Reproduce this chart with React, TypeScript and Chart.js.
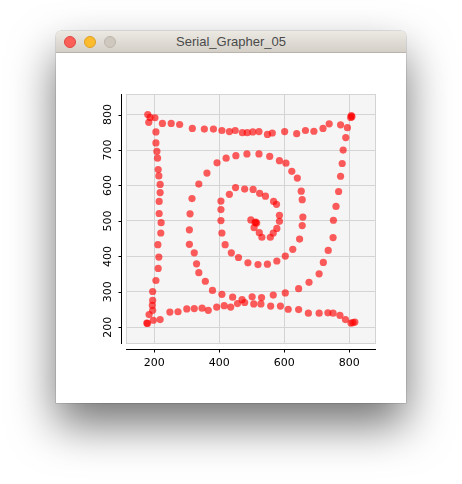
import React, { useEffect, useRef } from "react";
import { Chart, registerables } from "chart.js";

Chart.register(...registerables);

// ---- data ----
const topEdgeX = [180, 187, 202, 183, 225, 252, 278, 317, 354, 382, 408, 431, 449, 471, 486, 503, 522, 548, 563, 601, 638, 665, 691, 719, 738, 773, 794, 804, 808, 806];
const topEdgeY = [800, 792, 791, 778, 775, 775, 772, 761, 759, 759, 755, 752, 755, 749, 749, 751, 752, 744, 748, 752, 746, 755, 753, 761, 774, 771, 763, 792, 794, 797];

const spiralX = [789, 781, 778, 773, 767, 759, 751, 750, 735, 720, 707, 676, 644, 603, 566, 530, 501, 470, 441, 408, 379, 357, 337, 330, 323, 308, 308, 310, 316, 337, 362, 393, 421, 451, 485, 522, 555, 585, 605, 623, 640, 652, 655, 657, 655, 647, 626, 603, 577, 548, 519, 488, 459, 437, 418, 408, 405, 405, 405, 431, 450, 478, 504, 524, 542, 567, 576, 585, 585, 577, 566, 557, 531, 523, 507, 497, 512, 515, 510];
const spiralY = [735, 700, 662, 626, 583, 541, 502, 453, 417, 383, 351, 327, 309, 297, 291, 284, 286, 278, 285, 293, 304, 330, 354, 379, 410, 434, 475, 520, 563, 604, 635, 664, 677, 684, 689, 689, 682, 670, 663, 640, 621, 584, 560, 511, 487, 449, 420, 401, 387, 378, 377, 382, 397, 410, 433, 466, 501, 532, 556, 575, 594, 590, 589, 578, 570, 555, 547, 516, 499, 479, 466, 454, 454, 467, 481, 503, 497, 494, 495];

const bottomEdgeX = [177, 179, 197, 218, 248, 273, 300, 323, 347, 366, 392, 415, 435, 456, 478, 506, 528, 558, 588, 612, 644, 674, 707, 734, 750, 771, 788, 805, 817, 811];
const bottomEdgeY = [212, 211, 220, 222, 243, 244, 252, 253, 254, 248, 257, 261, 257, 267, 270, 266, 266, 260, 260, 251, 250, 240, 240, 241, 240, 234, 222, 212, 215, 213];

const leftEdgeX = [205, 205, 208, 210, 212, 214, 218, 218, 215, 215, 221, 220, 211, 214, 212, 205, 195, 195, 194, 195, 184];
const leftEdgeY = [751, 720, 696, 677, 645, 627, 603, 580, 555, 521, 495, 466, 433, 398, 366, 332, 301, 276, 262, 248, 236];

const xTicks = [200, 400, 600, 800];
const yTicks = [200, 300, 400, 500, 600, 700, 800];
const X_MIN = 113;
const X_MAX = 882;
const Y_MIN = 153;
const Y_MAX = 858;

const allX = [...topEdgeX, ...spiralX, ...bottomEdgeX, ...leftEdgeX];
const allY = [...topEdgeY, ...spiralY, ...bottomEdgeY, ...leftEdgeY];

const GRID = "#d4d4d4";
const LABEL_FONT = "11px 'DejaVu Sans', sans-serif";

const framePlugin = {
  id: "frame",
  beforeDraw(chart: any) {
    const { ctx, chartArea: a } = chart;
    ctx.save();
    ctx.fillStyle = "#f5f5f5";
    ctx.fillRect(a.left, a.top, a.right - a.left, a.bottom - a.top);
    ctx.restore();
  },
  afterDraw(chart: any) {
    const { ctx, chartArea: a, scales } = chart;
    const xs = scales.x;
    const ys = scales.y;
    ctx.save();
    // plot border
    ctx.strokeStyle = GRID;
    ctx.lineWidth = 1;
    ctx.strokeRect(Math.round(a.left) + 0.5, Math.round(a.top) + 0.5, Math.round(a.right - a.left) - 1, Math.round(a.bottom - a.top) - 1);

    // axes (offset from plot like the reference)
    ctx.strokeStyle = "#000";
    ctx.lineWidth = 1;
    const axY = Math.round(a.bottom) + 5.5;
    const axX = Math.round(a.left) - 4.5;
    ctx.beginPath();
    ctx.moveTo(a.left, axY);
    ctx.lineTo(a.right, axY);
    ctx.moveTo(axX, a.top);
    ctx.lineTo(axX, a.bottom);
    // tick marks
    xTicks.forEach((v) => {
      const px = Math.round(xs.getPixelForValue(v)) + 0.5;
      ctx.moveTo(px, axY);
      ctx.lineTo(px, axY + 3);
    });
    yTicks.forEach((v) => {
      const py = Math.round(ys.getPixelForValue(v)) + 0.5;
      ctx.moveTo(axX, py);
      ctx.lineTo(axX - 3, py);
    });
    ctx.stroke();

    // labels
    ctx.fillStyle = "#000";
    ctx.font = LABEL_FONT;
    ctx.textAlign = "center";
    ctx.textBaseline = "middle";
    xTicks.forEach((v) => {
      ctx.fillText(String(v), xs.getPixelForValue(v), axY + 14);
    });
    yTicks.forEach((v) => {
      ctx.save();
      ctx.translate(axX - 13, ys.getPixelForValue(v));
      ctx.rotate(-Math.PI / 2);
      ctx.fillText(String(v), 0, 0);
      ctx.restore();
    });
    ctx.restore();
  },
};

function ScatterChart() {
  const ref = useRef<HTMLCanvasElement>(null);
  useEffect(() => {
    if (!ref.current) return;
    const chart = new Chart(ref.current, {
      type: "scatter",
      data: {
        datasets: [
          {
            data: allX.map((x, i) => ({ x, y: allY[i] })),
            backgroundColor: "rgba(255,0,0,0.63)",
            borderWidth: 0,
            pointRadius: 3.6,
            pointHoverRadius: 3.6,
          },
        ],
      },
      options: {
        animation: false,
        responsive: false,
        devicePixelRatio: 1,
        events: [],
        layout: { padding: { left: 70, right: 30, top: 41, bottom: 59 } },
        plugins: { legend: { display: false }, tooltip: { enabled: false }, title: { display: false } },
        scales: {
          x: {
            type: "linear",
            min: X_MIN,
            max: X_MAX,
            afterBuildTicks: (s: any) => {
              s.ticks = xTicks.map((v) => ({ value: v }));
            },
            afterFit: (s: any) => {
              s.height = 0;
            },
            ticks: { display: false },
            border: { display: false },
            grid: { color: GRID, drawTicks: false, lineWidth: 1 },
          },
          y: {
            type: "linear",
            min: Y_MIN,
            max: Y_MAX,
            afterBuildTicks: (s: any) => {
              s.ticks = yTicks.map((v) => ({ value: v }));
            },
            afterFit: (s: any) => {
              s.width = 0;
            },
            ticks: { display: false },
            border: { display: false },
            grid: { color: GRID, drawTicks: false, lineWidth: 1 },
          },
        },
      },
      plugins: [framePlugin],
    });
    return () => chart.destroy();
  }, []);
  return (
    <canvas
      ref={ref}
      width={350}
      height={350}
      style={{ position: "absolute", left: 0, top: 22, width: 350, height: 350, display: "block" }}
    />
  );
}

function Light({ left, fill, stroke }: { left: number; fill: string; stroke: string }) {
  return (
    <div
      style={{
        position: "absolute",
        left,
        top: 5,
        width: 12,
        height: 12,
        borderRadius: "50%",
        background: fill,
        boxSizing: "border-box",
        border: `0.5px solid ${stroke}`,
      }}
    />
  );
}

export default function App() {
  return (
    <div
      style={{
        position: "fixed",
        left: 0,
        top: 0,
        width: 462,
        height: 484,
        background: "#ffffff",
        overflow: "hidden",
      }}
    >
      <div
        style={{
          position: "absolute",
          left: 56,
          top: 31,
          width: 350,
          height: 372,
          background: "#ffffff",
          borderRadius: "5px 5px 0 0",
          boxShadow: "0 22px 45px rgba(0,0,0,0.55), 0 0 0 0.5px rgba(0,0,0,0.2)",
        }}
      >
        <div
          style={{
            position: "absolute",
            left: 0,
            top: 0,
            width: 350,
            height: 22,
            boxSizing: "border-box",
            borderBottom: "1px solid #b8b4ac",
            borderRadius: "5px 5px 0 0",
            background: "linear-gradient(#ece9e3, #d4d0c8)",
          }}
        >
          <Light left={8} fill="#fc5f57" stroke="#df4640" />
          <Light left={28} fill="#fdbb2e" stroke="#dea124" />
          <Light left={48} fill="#cec8bf" stroke="#bcb6ad" />
          <div
            style={{
              position: "absolute",
              left: 0,
              top: 0,
              width: 350,
              height: 22,
              lineHeight: "22px",
              textAlign: "center",
              fontFamily: "'Liberation Sans', Arial, sans-serif",
              fontSize: 13,
              color: "#4a4a4a",
            }}
          >
            Serial_Grapher_05
          </div>
        </div>
        <ScatterChart />
      </div>
    </div>
  );
}
